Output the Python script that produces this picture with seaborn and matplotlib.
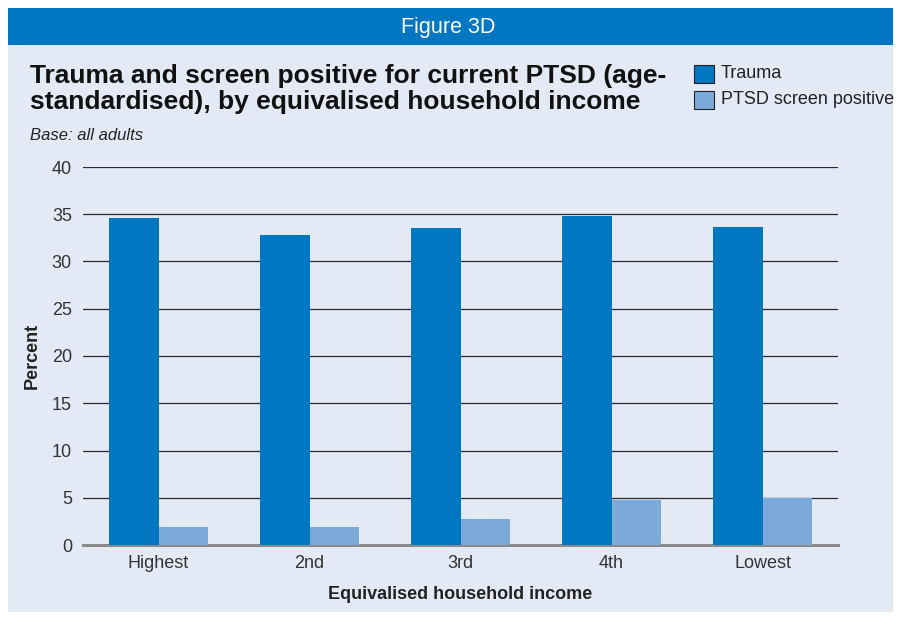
import pandas as pd
import matplotlib.pyplot as plt
import seaborn as sns
from matplotlib.patches import Rectangle

# values
income = ["Highest", "2nd", "3rd", "4th", "Lowest"]
trauma = [34.6, 32.8, 33.5, 34.8, 33.7]
ptsd = [1.9, 1.9, 2.7, 4.8, 5.0]
series = ["Trauma", "PTSD screen positive"]
colors = ["#0077C0", "#7BAAD9"]

df = pd.DataFrame({
    "income": income * 2,
    "value": trauma + ptsd,
    "series": [series[0]] * len(income) + [series[1]] * len(income),
})

sns.set_theme(style="white")
plt.rcParams["font.family"] = ["Liberation Sans", "DejaVu Sans"]

fig = plt.figure(figsize=(9.01, 6.19), dpi=100, facecolor="white")

# background panel and header band
fig.patches.append(Rectangle((8 / 901, 1 - 612 / 619), 885 / 901, 567 / 619,
                             transform=fig.transFigure, facecolor="#E3EAF6",
                             edgecolor="none", zorder=-10))
fig.patches.append(Rectangle((8 / 901, 1 - 45 / 619), 885 / 901, 37 / 619,
                             transform=fig.transFigure, facecolor="#0077C0",
                             edgecolor="none", zorder=-10))
fig.text(448 / 901, 1 - 28 / 619, "Figure 3D", color="white", fontsize=15.5,
         ha="center", va="center")

fig.text(30 / 901, 1 - 89 / 619,
         "Trauma and screen positive for current PTSD (age-\nstandardised), by equivalised household income",
         fontsize=19, fontweight="bold", color="#111111", ha="left",
         va="center", linespacing=1.15)
fig.text(30 / 901, 1 - 135 / 619, "Base: all adults", fontsize=12,
         style="italic", color="#222222", ha="left", va="center")

# legend
for i, (name, c) in enumerate(zip(series, colors)):
    yc = 1 - (74 + 26 * i) / 619
    fig.patches.append(Rectangle((694 / 901, yc - 9 / 619), 20 / 901, 18 / 619,
                                 transform=fig.transFigure, facecolor=c,
                                 edgecolor="#222222", linewidth=0.8))
    fig.text(721 / 901, yc + 1 / 619, name, fontsize=13, color="#222222",
             ha="left", va="center")

ax = fig.add_axes([83 / 901, 1 - 545 / 619, 755 / 901, 378 / 619])
ax.set_facecolor("none")
sns.barplot(data=df, x="income", y="value", hue="series", palette=colors,
            width=0.66, saturation=1, linewidth=0, legend=False, ax=ax,
            zorder=3)

ax.set_ylim(0, 40)
ax.set_yticks(range(0, 41, 5))
ax.yaxis.grid(True, color="#2a2a2a", linewidth=0.9)
ax.set_axisbelow(True)
for s in ["top", "right", "left"]:
    ax.spines[s].set_visible(False)
ax.spines["bottom"].set_color("#8a8a8a")
ax.spines["bottom"].set_linewidth(2.2)
ax.tick_params(axis="both", length=0, labelsize=13, colors="#333333")
ax.tick_params(axis="y", pad=8)
ax.tick_params(axis="x", pad=7)

ax.set_xlabel("Equivalised household income", fontsize=13,
              fontweight="bold", color="#222222", labelpad=10)
ax.set_ylabel("Percent", fontsize=13, fontweight="bold", color="#222222",
              labelpad=8)

fig.savefig("out.png", dpi=100, facecolor=fig.get_facecolor())
